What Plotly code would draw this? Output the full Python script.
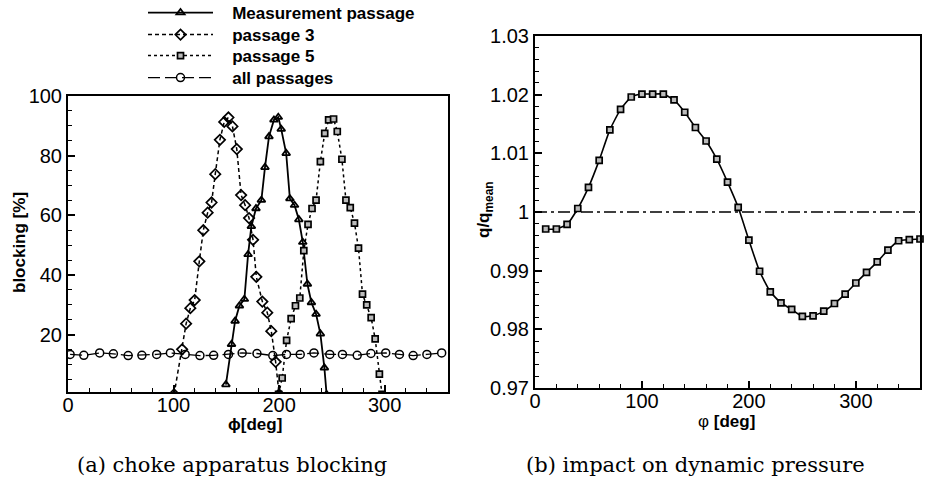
import plotly.graph_objects as go

# ---------------- data ----------------
# (a) blocking vs angle
meas_x = [149.6, 154.9, 158.3, 162.4, 167.1, 170.6, 173.7, 178.1, 183.2, 186.6, 190.4, 195.1, 199.2,
          202.0, 206.7, 210.2, 214.6, 218.7, 222.4, 226.8, 230.6, 235.0, 239.1, 242.9, 245.0]
meas_y = [3.3, 16.8, 24.6, 29.7, 31.9, 46.9, 56.3, 62.3, 65.1, 76.1, 86.4, 92.0, 92.9,
          88.9, 80.8, 65.6, 63.4, 58.6, 51.0, 37.0, 30.8, 26.9, 20.3, 8.9, 0.0]

p3_x = [100.5, 108.1, 111.9, 115.9, 120.0, 124.4, 128.2, 132.3, 136.0, 139.5, 143.9, 148.0, 152.0,
        155.8, 159.9, 164.0, 167.8, 171.5, 175.3, 178.4, 184.1, 188.8, 192.6, 196.7, 200.0]
p3_y = [0.0, 15.1, 23.7, 28.9, 31.6, 44.6, 55.0, 60.9, 64.3, 73.8, 85.3, 91.3, 92.8,
        89.8, 82.2, 66.8, 63.4, 59.1, 51.8, 39.4, 31.1, 27.4, 21.2, 10.9, 0.0]

p5_x = [199.5, 202.9, 207.1, 211.4, 215.5, 219.6, 223.4, 227.4, 231.2, 235.0, 239.1, 243.2, 246.9,
        251.6, 255.1, 259.5, 263.3, 267.4, 271.4, 275.2, 279.0, 283.0, 287.2, 291.0, 295.0, 297.5]
p5_y = [0.0, 5.5, 18.1, 25.4, 29.7, 32.3, 48.2, 57.0, 62.3, 65.1, 78.0, 87.5, 92.0,
        92.3, 88.1, 78.8, 65.1, 62.6, 57.4, 49.0, 33.6, 30.0, 25.7, 18.6, 6.8, 0.0]

all_x = [2, 15, 30, 43, 57, 70, 84, 97, 111, 125, 138, 152, 165, 179, 194, 207, 220, 233,
         248, 260, 274, 287, 301, 314, 327, 340, 354]
all_y = [13.4, 13.1, 13.9, 13.6, 13.0, 13.1, 13.4, 13.9, 13.4, 13.0, 13.1, 13.4, 13.9, 13.7,
         13.0, 13.4, 13.4, 13.9, 13.4, 13.4, 13.1, 13.7, 13.9, 13.4, 13.0, 13.4, 13.9]

# (b) impact on dynamic pressure
q_x = [10, 20, 30, 40, 50, 60, 70, 80, 90, 100, 110, 120, 130, 140, 150, 160, 170, 180,
       190, 200, 210, 220, 230, 240, 250, 260, 270, 280, 290, 300, 310, 320, 330, 340, 350, 360]
q_y = [0.9971, 0.9971, 0.9979, 1.0006, 1.0042, 1.0088, 1.0140, 1.0175, 1.0196, 1.0201, 1.0201,
       1.0201, 1.0191, 1.0170, 1.0144, 1.0121, 1.0090, 1.0051, 1.0008, 0.9952, 0.9899, 0.9864,
       0.9845, 0.9834, 0.9822, 0.9823, 0.9831, 0.9844, 0.9860, 0.9879, 0.9897, 0.9915, 0.9935,
       0.9951, 0.9953, 0.9954]
ref_x = [0, 360]
ref_y = [1.0, 1.0]

series_names = ["Measurement passage", "passage 3", "passage 5", "all passages"]
caption_a = "(a) choke apparatus blocking"
caption_b = "(b) impact on dynamic pressure"

W, H = 926, 486
SANS = "Liberation Sans, Arial, sans-serif"
SERIF = "DejaVu Serif, Liberation Serif, serif"
PAD = "\u00a0\u00a0\u00a0"

fig = go.Figure()

fig.add_trace(go.Scatter(
    x=meas_x, y=meas_y, name=PAD + "<b>%s</b>" % series_names[0], mode="lines+markers", legend="legend",
    line=dict(color="black", width=1.8),
    marker=dict(symbol="triangle-up-open", size=7, color="black", line=dict(width=1.8, color="black")),
    xaxis="x", yaxis="y"))
fig.add_trace(go.Scatter(
    x=p3_x, y=p3_y, name=PAD + "<b>%s</b>" % series_names[1], mode="lines+markers", legend="legend2",
    line=dict(color="black", width=1.5, dash="4px,3px"),
    marker=dict(symbol="diamond-open", size=8, color="black", line=dict(width=1.7, color="black")),
    xaxis="x", yaxis="y"))
fig.add_trace(go.Scatter(
    x=p5_x, y=p5_y, name=PAD + "<b>%s</b>" % series_names[2], mode="lines+markers", legend="legend3",
    line=dict(color="black", width=1.5, dash="3px,3px"),
    marker=dict(symbol="square", size=6, color="#bbbbbb", line=dict(width=1.7, color="black")),
    xaxis="x", yaxis="y"))
fig.add_trace(go.Scatter(
    x=all_x, y=all_y, name=PAD + "<b>%s</b>" % series_names[3], mode="lines+markers", legend="legend4",
    line=dict(color="black", width=1.3, dash="12px,5px"),
    marker=dict(symbol="circle-open", size=8, color="black", line=dict(width=1.5, color="black")),
    xaxis="x", yaxis="y"))

fig.add_trace(go.Scatter(
    x=ref_x, y=ref_y, mode="lines", showlegend=False,
    line=dict(color="black", width=1.5, dash="12px,4px,3px,4px"),
    xaxis="x2", yaxis="y2"))
fig.add_trace(go.Scatter(
    x=q_x, y=q_y, mode="lines+markers", showlegend=False, cliponaxis=False,
    line=dict(color="black", width=1.6, shape="spline", smoothing=0.5),
    marker=dict(symbol="square", size=6, color="#bbbbbb", line=dict(width=1.7, color="black")),
    xaxis="x2", yaxis="y2"))

common = dict(showline=True, linecolor="black", linewidth=2, mirror=True, showgrid=False,
              zeroline=False, ticks="inside", ticklen=7, tickwidth=1.5, tickcolor="black",
              automargin=False,
              tickfont=dict(family=SANS, size=20, color="black"))


def minor(t0, dt):
    return dict(ticks="inside", tick0=t0, dtick=dt, ticklen=4, tickcolor="black", tickwidth=1)


def leg(row_y):
    return dict(x=143 / W, y=(H - row_y) / H, xanchor="left", yanchor="middle",
                bgcolor="rgba(0,0,0,0)", borderwidth=0,
                font=dict(family=SANS, size=17, color="black"), itemwidth=65)


def ann(text, x, y, size=17, angle=0, family=SANS):
    return dict(text=text, x=x / W, y=(H - y) / H, xref="paper", yref="paper",
                xanchor="center", yanchor="middle", textangle=angle, showarrow=False,
                font=dict(family=family, size=size, color="black"))


fig.update_layout(
    width=W, height=H, margin=dict(l=0, r=0, t=0, b=0, autoexpand=False),
    paper_bgcolor="white", plot_bgcolor="white",
    font=dict(family=SANS, color="black"),
    xaxis=dict(domain=[68 / W, 448 / W], range=[0, 360], anchor="y", tick0=0, dtick=100,
               ticklabelstandoff=-6, minor=minor(0, 20), **common),
    yaxis=dict(domain=[(H - 392) / H, (H - 96) / H], range=[0.8, 100], anchor="x", tick0=0, dtick=20,
               minor=minor(0, 5), **common),
    xaxis2=dict(domain=[535 / W, 920 / W], range=[0, 360], anchor="y2", tick0=0, dtick=100,
                ticklabelstandoff=-6, minor=minor(0, 20), **common),
    yaxis2=dict(domain=[(H - 388) / H, (H - 36) / H], range=[0.97, 1.03], anchor="x2", tick0=0.97,
                dtick=0.01, minor=minor(0.97, 0.002), **common),
    legend=leg(13), legend2=leg(35), legend3=leg(56), legend4=leg(78),
    annotations=[
        ann("<b>blocking [%]</b>", 19, 243, angle=-90),
        ann("<b>ϕ[deg]</b>", 255, 424),
        ann("<b>q/q<sub>mean</sub></b>", 485, 210, angle=-90),
        ann("φ <b>[deg]</b>", 726, 422),
        ann(caption_a, 232, 465, size=21, family=SERIF),
        ann(caption_b, 695, 465, size=21, family=SERIF),
    ],
)

fig.write_html("out.html")
